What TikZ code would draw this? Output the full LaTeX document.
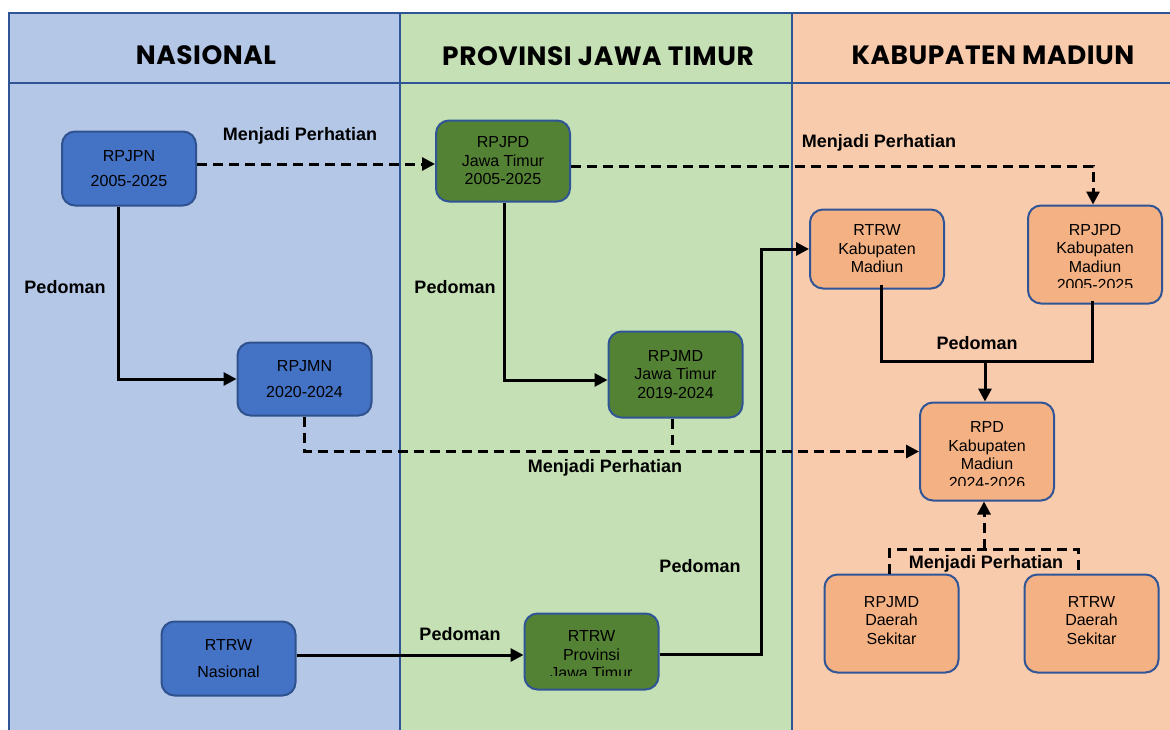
\documentclass[tikz,border=0pt]{standalone}
\usepackage{fontspec}
\setmainfont{Liberation Sans}
\newfontfamily\titlefont[LetterSpace=2]{Poppins}
\usetikzlibrary{arrows.meta}
\definecolor{panelB}{HTML}{B4C7E7}
\definecolor{panelG}{HTML}{C5E0B4}
\definecolor{panelO}{HTML}{F8CBAD}
\definecolor{frameC}{HTML}{2F5597}
\definecolor{boxB}{HTML}{4472C4}
\definecolor{boxBd}{HTML}{2F528F}
\definecolor{boxG}{HTML}{548235}
\definecolor{boxO}{HTML}{F4B183}
\begin{document}
\begin{tikzpicture}[x=1pt,y=-1pt,
  panel/.style={draw=frameC,line width=1.8pt},
  ptitle/.style={font=\titlefont\bfseries\fontsize{26.5}{30}\selectfont},
  box/.style={draw=frameC,line width=2pt,rounded corners=13pt,minimum width=134pt,align=center,font=\fontsize{16}{18.5}\selectfont,inner sep=0pt},
  bluebox/.style={box,fill=boxB,draw=boxBd},
  greenbox/.style={box,fill=boxG},
  orangebox/.style={box,fill=boxO},
  btext/.style={align=center,font=\fontsize{16}{18.5}\selectfont,inner sep=0pt},
  lbl/.style={font=\bfseries\fontsize{18}{21}\selectfont,inner sep=0pt},
  conn/.style={line width=3pt,-{Triangle[length=13pt,width=13pt]}},
  plain/.style={line width=3pt},
  dsh/.style={dash pattern=on 10pt off 6pt}
]
\useasboundingbox (0,0) rectangle (1170,729);
\fill[white] (0,0) rectangle (1170,729);
% panels
\draw[panel,fill=panelB] (9,83) rectangle (400,740);
\draw[panel,fill=panelG] (400,83) rectangle (792,740);
\draw[panel,fill=panelO] (792,83) rectangle (1180,740);
\draw[panel,fill=panelB] (9,13) rectangle (400,83);
\draw[panel,fill=panelG] (400,13) rectangle (792,83);
\draw[panel,fill=panelO] (792,13) rectangle (1180,83);
\node[ptitle] (tn) at (206,55) {NASIONAL};
\node[ptitle] (tp) at (598,56) {PROVINSI JAWA TIMUR};
\node[ptitle] (tk) at (993,55) {KABUPATEN MADIUN};

% boxes
\node[bluebox,minimum height=74pt] (rpjpn) at (129,168.5) {RPJPN\\[7pt]2005-2025};
\node[bluebox,minimum height=73pt] (rpjmn) at (304.5,379) {RPJMN\\[7pt]2020-2024};
\node[bluebox,minimum height=74pt] (rtrwnas) at (228.5,658.5) {RTRW\\[8pt]Nasional};
\node[greenbox,minimum height=81pt] (rpjpdjt) at (503,161) {RPJPD\\Jawa Timur\\2005-2025};
\node[greenbox,minimum height=86pt] (rpjmdjt) at (675.5,374.5) {RPJMD\\Jawa Timur\\2019-2024};
\node[greenbox,minimum height=76pt] (rtrwprov) at (591.5,651.5) {};
\begin{scope}
\clip (525,615) rectangle (658,675);
\node[btext] (rtrwprovt) at (591.5,655) {RTRW\\Provinsi\\Jawa Timur};
\end{scope}
\node[orangebox,minimum height=79pt] (rtrwkab) at (877,249) {RTRW\\Kabupaten\\Madiun};
\node[orangebox,minimum height=98pt] (rpjpdkab) at (1095,254.5) {};
\begin{scope}
\clip (1030,207) rectangle (1160,287);
\node[btext] (rpjpdkabt) at (1095,257.5) {RPJPD\\Kabupaten\\Madiun\\2005-2025};
\end{scope}
\node[orangebox,minimum height=98pt] (rpd) at (987,451.5) {};
\begin{scope}
\clip (921,404) rectangle (1053,485);
\node[btext] (rpdt) at (987,455) {RPD\\Kabupaten\\Madiun\\2024-2026};
\end{scope}
\node[orangebox,minimum height=98pt] (rpjmdds) at (891.5,623.5) {\\[-14pt]RPJMD\\Daerah\\Sekitar};
\node[orangebox,minimum height=98pt] (rtrwds) at (1091.5,623.5) {\\[-14pt]RTRW\\Daerah\\Sekitar};

% connectors
\draw[conn,dsh] (rpjpn.east |- 0,164) -- (rpjpdjt.west |- 0,164);
\node[lbl] (l1) at (300,136) {Menjadi Perhatian};

\coordinate (c2) at (1093,166);
\draw[conn,dsh] (rpjpdjt.east |- c2) -- (c2) -- (c2 |- rpjpdkab.north);
\node[lbl] (l2) at (879,143) {Menjadi Perhatian};

\draw[conn] ([xshift=-11pt]rpjpn.south) |- (rpjmn.west);
\node[lbl] (l3) at (65,287) {Pedoman};

\coordinate (c4) at (504,380);
\draw[conn] (rpjpdjt.south -| c4) -- (c4) -- (rpjmdjt.west |- c4);
\node[lbl] (l4) at (455,287) {Pedoman};

\draw[conn,dsh] (rpjmn.south) |- (rpd.west);
\draw[plain,dsh] ([xshift=-3pt]rpjmdjt.south) -- ([xshift=-3pt]rpjmdjt.south |- rpd.west);
\node[lbl] (l5) at (605,468) {Menjadi Perhatian};

\draw[conn] (rtrwnas.east |- 0,655) -- (rtrwprov.west |- 0,655);
\node[lbl] (l6) at (460,634) {Pedoman};

\coordinate (c7) at (761,654);
\draw[conn] (rtrwprov.east |- c7) -- (c7) |- (rtrwkab.west);
\node[lbl] (l7) at (700,566) {Pedoman};

\coordinate (c8) at (985,361);
\draw[plain] ([xshift=4pt,yshift=5pt]rtrwkab.south) |- ([xshift=-3pt]rpjpdkab.south |- c8) -- ([xshift=-3pt,yshift=4pt]rpjpdkab.south);
\draw[conn] (c8) -- (c8 |- rpd.north);
\node[lbl] (l8) at (977,343) {Pedoman};

\coordinate (c9) at (984,549);
\draw[plain,dsh] ([xshift=-2pt]rpjmdds.north) |- (c9) -| ([xshift=-13pt]rtrwds.north);
\draw[conn,dsh] (c9) -- (c9 |- rpd.south);
\node[lbl] (l9) at (986,564) {Menjadi Perhatian};
\end{tikzpicture}
\end{document}
